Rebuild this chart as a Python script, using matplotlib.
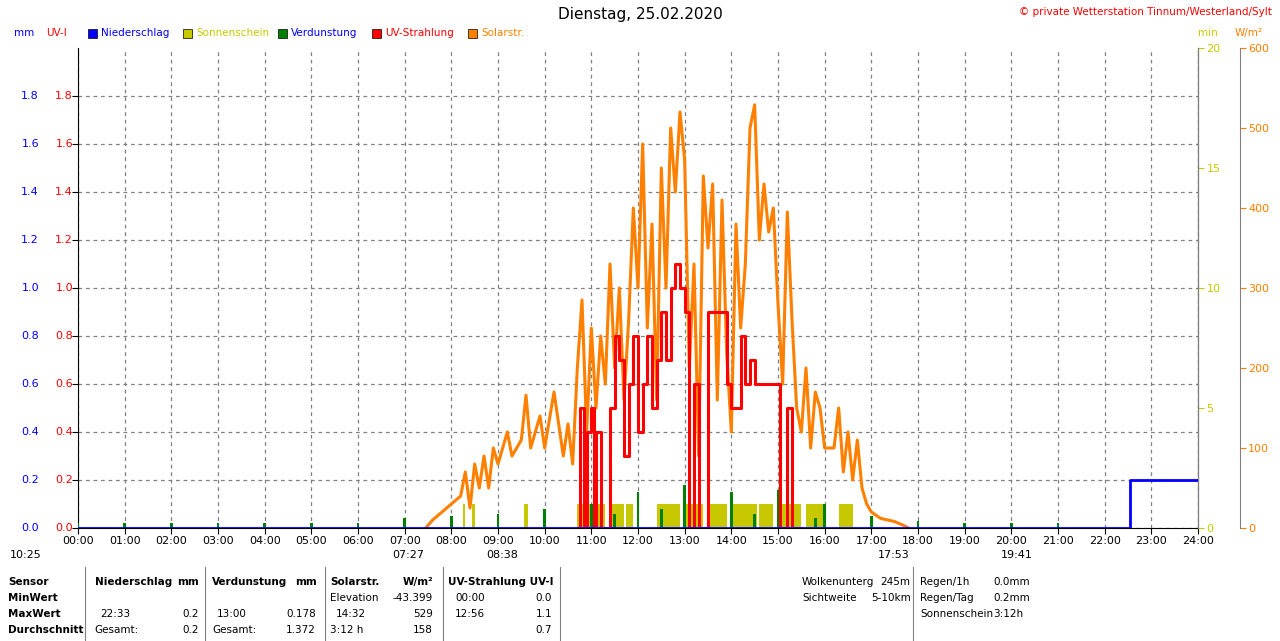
import numpy as np
import matplotlib.pyplot as plt
from matplotlib.transforms import blended_transform_factory

# ---------------------------------------------------------------------------
# data
# ---------------------------------------------------------------------------
solar_t = [7.45, 7.6, 7.8, 8.0, 8.2, 8.3, 8.4, 8.5, 8.6, 8.7, 8.8, 8.9, 9.0, 9.2, 9.3, 9.5,
           9.6, 9.7, 9.9, 10.0, 10.2, 10.4, 10.5, 10.6, 10.7, 10.8, 10.9, 11.0, 11.1, 11.2,
           11.3, 11.4, 11.5, 11.6, 11.7, 11.8, 11.9, 12.0, 12.1, 12.2, 12.3, 12.4, 12.5,
           12.6, 12.7, 12.8, 12.9, 13.0, 13.1, 13.2, 13.3, 13.4, 13.5, 13.6, 13.7, 13.8,
           13.9, 14.0, 14.1, 14.2, 14.3, 14.4, 14.5, 14.6, 14.7, 14.8, 14.9, 15.0, 15.1,
           15.2, 15.3, 15.4, 15.5, 15.6, 15.7, 15.8, 15.9, 16.0, 16.2, 16.3, 16.4, 16.5,
           16.6, 16.7, 16.8, 16.9, 17.0, 17.2, 17.5, 17.7, 17.8]
solar_w = [0, 10, 20, 30, 40, 70, 25, 80, 50, 90, 50, 100, 80, 120, 90, 110,
           166, 100, 140, 100, 170, 90, 130, 80, 200, 285, 120, 250, 150, 240,
           180, 330, 200, 300, 160, 260, 400, 300, 480, 250, 380, 160, 450,
           300, 500, 420, 520, 460, 200, 330, 90, 440, 350, 430, 160, 410,
           220, 120, 380, 250, 330, 500, 529, 360, 430, 370, 400, 280, 180,
           395, 260, 150, 120, 200, 100, 170, 150, 100, 100, 150, 70, 120,
           60, 110, 50, 30, 20, 12, 8, 3, 0]

uv_t = [10.7, 10.75, 10.85, 10.9, 11.0, 11.05, 11.1, 11.2, 11.3, 11.4, 11.5, 11.6, 11.7,
        11.8, 11.9, 12.0, 12.1, 12.2, 12.3, 12.4, 12.5, 12.6, 12.7, 12.8, 12.9, 13.0,
        13.1, 13.2, 13.3, 13.5, 13.6, 13.8, 13.9, 14.0, 14.2, 14.3, 14.4, 14.5, 14.7,
        14.9, 15.0, 15.05, 15.2, 15.3, 15.5]
uv_i = [0, 0.5, 0, 0.4, 0.5, 0, 0.4, 0, 0, 0.5, 0.8, 0.7, 0.3,
        0.6, 0.8, 0.4, 0.6, 0.8, 0.5, 0.7, 0.9, 0.7, 1.0, 1.1, 1.0, 0.9,
        0, 0.6, 0, 0.9, 0.9, 0.9, 0.6, 0.5, 0.8, 0.6, 0.7, 0.6, 0.6,
        0.6, 0.6, 0, 0.5, 0, 0]

sun_start = [8.25, 8.45, 9.55, 10.7, 11.4, 11.75, 12.4, 13.0, 13.5, 14.0, 14.6, 15.0, 15.6, 16.3]
sun_end = [8.3, 8.5, 9.65, 11.3, 11.7, 11.9, 12.9, 13.4, 13.9, 14.55, 14.9, 15.5, 16.0, 16.6]
sun_min = 1.0

evap_t = list(range(0, 22)) + [11.5, 12.5, 14.5, 15.8]
evap_mm = [0.02, 0.02, 0.02, 0.02, 0.02, 0.02, 0.02, 0.04, 0.05, 0.06, 0.08, 0.1,
           0.15, 0.178, 0.15, 0.16, 0.1, 0.05, 0.03, 0.02, 0.02, 0.02,
           0.06, 0.08, 0.06, 0.04]

rain_t = [0, 22.55, 22.55, 24]
rain_mm = [0, 0, 0.2, 0.2]

hour_labels = ["%02d:00" % h for h in range(25)]

# ---------------------------------------------------------------------------
fig = plt.figure(figsize=(12.8, 6.41), dpi=100)
ax = fig.add_axes([78 / 1280, 113 / 641, 1120 / 1280, 480 / 641])
ax.set_xlim(0, 24)
ax.set_ylim(0, 2.0)
ax.set_xticks(range(25))
ax.set_xticklabels(hour_labels, fontsize=8)
ax.set_yticks(np.arange(0, 2.0, 0.2))
ax.set_yticklabels([])
ax.tick_params(axis="y", length=4)
ax.tick_params(axis="x", length=4, pad=2)
ax.grid(True, color="gray", linestyle=(0, (3, 3)), linewidth=0.9)
ax.spines["top"].set_visible(False)

tr = blended_transform_factory(fig.transFigure, ax.transData)
for v in np.arange(0, 1.9, 0.2):
    fig.text(39 / 1280, v, "%.1f" % v, transform=tr, color="blue", fontsize=8,
             ha="right", va="center")
    fig.text(73 / 1280, v, "%.1f" % v, transform=tr, color="red", fontsize=8,
             ha="right", va="center")

# sunshine bars (minutes axis)
ax_min = ax.twinx()
ax_min.set_ylim(0, 20)
ax_min.set_yticks([0, 5, 10, 15, 20])
ax_min.tick_params(axis="y", colors="#c8c800", labelsize=8, length=4, pad=2)
ax_min.spines["right"].set_color("gray")
for s0, s1 in zip(sun_start, sun_end):
    ax_min.bar(s0, sun_min, width=s1 - s0, align="edge", color="#c8c800", zorder=1)

ax_w = ax.twinx()
ax_w.set_ylim(0, 600)
ax_w.set_yticks(range(0, 601, 100))
ax_w.spines["right"].set_position(("outward", 30))
ax_w.spines["right"].set_color("gray")
ax_w.tick_params(axis="y", colors="#ff8000", labelsize=8, length=4, pad=2)
for a in (ax_min, ax_w):
    a.spines["top"].set_visible(False)
    a.spines["left"].set_visible(False)
    a.spines["bottom"].set_visible(False)
ax_w.plot(solar_t, solar_w, color="#ff8000", lw=2.2)

ax_uv = ax.twinx()
ax_uv.set_ylim(0, 2.0)
ax_uv.axis("off")
ax_uv.plot(uv_t, uv_i, color="red", lw=2.2, drawstyle="steps-post")
ax_uv.bar(evap_t, evap_mm, width=0.06, color="green")
ax_uv.plot(rain_t, rain_mm, color="blue", lw=2)

# header
fig.text(0.5, 1 - 15 / 641, "Dienstag, 25.02.2020", ha="center", va="center", fontsize=11)
fig.text(1 - 8 / 1280, 1 - 12 / 641, "© private Wetterstation Tinnum/Westerland/Sylt",
         ha="right", va="center", fontsize=7.5, color="red")
fig.text(14 / 1280, 1 - 33 / 641, "mm", color="blue", fontsize=7.5, va="center")
fig.text(46 / 1280, 1 - 33 / 641, "UV-I", color="red", fontsize=7.5, va="center")
fig.text(1198 / 1280, 1 - 33 / 641, "min", color="#c8c800", fontsize=7.5, va="center")
fig.text(1235 / 1280, 1 - 33 / 641, "W/m²", color="#ff8000", fontsize=7.5, va="center")
legend = [("Niederschlag", "blue", "blue", 88), ("Sonnenschein", "#c8c800", "#c8c800", 183),
          ("Verdunstung", "green", "blue", 278), ("UV-Strahlung", "red", "red", 372),
          ("Solarstr.", "#ff8000", "#ff8000", 468)]
for name, col, tcol, px in legend:
    fig.patches.append(plt.Rectangle((px / 1280, 1 - 38 / 641), 9 / 1280, 9 / 641,
                                     transform=fig.transFigure, color=col, ec="black", lw=0.5))
    fig.text((px + 13) / 1280, 1 - 33 / 641, name, color=tcol, fontsize=7.5, va="center")

# sun / moon times
for txt, px, py in [("10:25", 10, 555), ("07:27", 392, 555), ("08:38", 486, 555),
                    ("17:53", 878, 555), ("19:41", 1001, 555)]:
    fig.text(px / 1280, 1 - py / 641, txt, fontsize=8, va="center")

# statistics table
rows_y = [582, 598, 614, 630]
def t(x, y, s, **kw):
    fig.text(x / 1280, 1 - y / 641, s, fontsize=7.5, va="center", **kw)
for y, s in zip(rows_y, ["Sensor", "MinWert", "MaxWert", "Durchschnitt"]):
    t(8, y, s, weight="bold")
t(95, 582, "Niederschlag", weight="bold"); t(199, 582, "mm", weight="bold", ha="right")
t(212, 582, "Verdunstung", weight="bold"); t(317, 582, "mm", weight="bold", ha="right")
t(330, 582, "Solarstr.", weight="bold"); t(433, 582, "W/m²", weight="bold", ha="right")
t(448, 582, "UV-Strahlung UV-I", weight="bold")
t(100, 614, "22:33"); t(199, 614, "0.2", ha="right")
t(94, 630, "Gesamt:"); t(199, 630, "0.2", ha="right")
t(217, 614, "13:00"); t(316, 614, "0.178", ha="right")
t(212, 630, "Gesamt:"); t(316, 630, "1.372", ha="right")
t(330, 598, "Elevation"); t(433, 598, "-43.399", ha="right")
t(336, 614, "14:32"); t(433, 614, "529", ha="right")
t(330, 630, "3:12 h"); t(433, 630, "158", ha="right")
t(455, 598, "00:00"); t(552, 598, "0.0", ha="right")
t(455, 614, "12:56"); t(552, 614, "1.1", ha="right")
t(552, 630, "0.7", ha="right")
t(802, 582, "Wolkenunterg"); t(880, 582, "245m")
t(802, 598, "Sichtweite"); t(871, 598, "5-10km")
t(920, 582, "Regen/1h"); t(993, 582, "0.0mm")
t(920, 598, "Regen/Tag"); t(993, 598, "0.2mm")
t(920, 614, "Sonnenschein"); t(993, 614, "3:12h")
for px in [85, 205, 325, 443, 560, 913]:
    fig.add_artist(plt.Line2D([px / 1280] * 2, [1 - 567 / 641, 0], color="gray", lw=0.8))

fig.savefig("out.png", dpi=100)
